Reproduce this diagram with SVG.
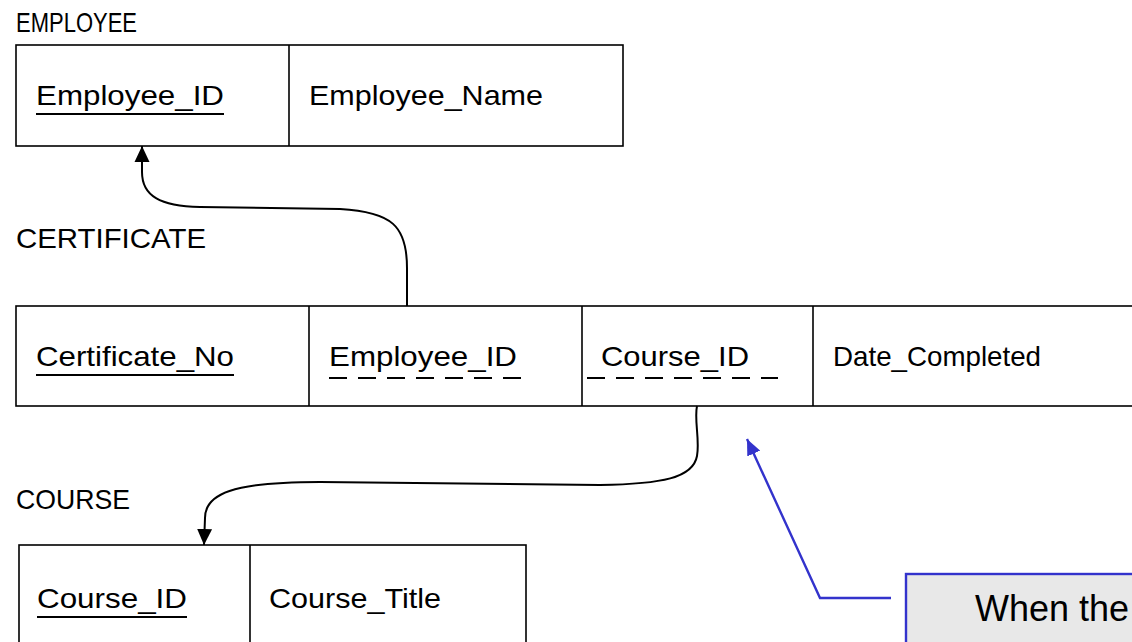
<svg xmlns="http://www.w3.org/2000/svg" width="1132" height="642" viewBox="0 0 1132 642">
<style>
  .t { font-family: "Liberation Sans", Arial, sans-serif; font-size: 28px; fill: #000; }
  .box { fill: #fff; stroke: #000; stroke-width: 1.6; }
  .div { stroke: #000; stroke-width: 1.6; }
  .ul { stroke: #000; stroke-width: 2; }
  .dash { stroke: #000; stroke-width: 2; stroke-dasharray: 18 11; }
  .conn { fill: none; stroke: #000; stroke-width: 2; }
  .blue { fill: none; stroke: #3333cc; stroke-width: 2.4; }
  .note { font-family: "Liberation Sans", Arial, sans-serif; font-size: 36px; fill: #000; }
</style>
<defs>
  <marker id="arr" markerUnits="userSpaceOnUse" viewBox="0 0 16 16" markerWidth="16" markerHeight="16" refX="16" refY="8" orient="auto">
    <path d="M0,0.5 L16,8 L0,15.5 z" fill="#000"/>
  </marker>
  <marker id="arrB" markerUnits="userSpaceOnUse" viewBox="0 0 16 14" markerWidth="16" markerHeight="14" refX="16" refY="7" orient="auto">
    <path d="M0,0 L16,7 L0,14 z" fill="#3333cc"/>
  </marker>
</defs>

<g id="employee">
  <text class="t" x="16" y="32" textLength="121" lengthAdjust="spacingAndGlyphs">EMPLOYEE</text>
  <rect class="box" x="16" y="45" width="607" height="101"/>
  <line class="div" x1="289" y1="45" x2="289" y2="146"/>
  <text class="t" x="36" y="105" textLength="188" lengthAdjust="spacingAndGlyphs">Employee_ID</text>
  <line class="ul" x1="36" y1="114" x2="224" y2="114"/>
  <text class="t" x="309" y="105" textLength="234" lengthAdjust="spacingAndGlyphs">Employee_Name</text>
</g>

<g id="certificate">
  <text class="t" x="16" y="248" textLength="190" lengthAdjust="spacingAndGlyphs">CERTIFICATE</text>
  <rect class="box" x="16" y="306" width="1130" height="100"/>
  <line class="div" x1="309" y1="306" x2="309" y2="406"/>
  <line class="div" x1="582" y1="306" x2="582" y2="406"/>
  <line class="div" x1="813" y1="306" x2="813" y2="406"/>
  <text class="t" x="36" y="366" textLength="198" lengthAdjust="spacingAndGlyphs">Certificate_No</text>
  <line class="ul" x1="36" y1="375" x2="234" y2="375"/>
  <text class="t" x="329" y="366" textLength="188" lengthAdjust="spacingAndGlyphs">Employee_ID</text>
  <line class="dash" x1="329" y1="378" x2="523" y2="378"/>
  <text class="t" x="601" y="366" textLength="148" lengthAdjust="spacingAndGlyphs">Course_ID</text>
  <line class="dash" x1="587" y1="378" x2="778" y2="378"/>
  <text class="t" x="833" y="366" textLength="208" lengthAdjust="spacingAndGlyphs">Date_Completed</text>
</g>

<g id="course">
  <text class="t" x="16" y="509" textLength="114" lengthAdjust="spacingAndGlyphs">COURSE</text>
  <rect class="box" x="19" y="545" width="507" height="120"/>
  <line class="div" x1="250" y1="545" x2="250" y2="642"/>
  <text class="t" x="37" y="608" textLength="150" lengthAdjust="spacingAndGlyphs">Course_ID</text>
  <line class="ul" x1="37" y1="617" x2="187" y2="617"/>
  <text class="t" x="269" y="608" textLength="172" lengthAdjust="spacingAndGlyphs">Course_Title</text>
</g>

<g id="callout">
  <rect x="906" y="574" width="250" height="100" fill="#e8e8e8" stroke="#3333cc" stroke-width="2.4"/>
  <text class="note" x="975" y="621">When the</text>
</g>

<g id="connectors">
  <path class="conn" d="M407,306 L407,268 C407,226 392,212 340,209 L200,207 C160,206 142,196 142,172 L142,146" marker-end="url(#arr)"/>
  <path class="conn" d="M697,406 C694,420 700,440 697,456 C693,478 662,484 600,485 L320,482 C232,482 205,494 205,518 L204,545" marker-end="url(#arr)"/>
  <path class="blue" d="M891,598 L820,598 L747,439" marker-end="url(#arrB)"/>
</g>
</svg>
